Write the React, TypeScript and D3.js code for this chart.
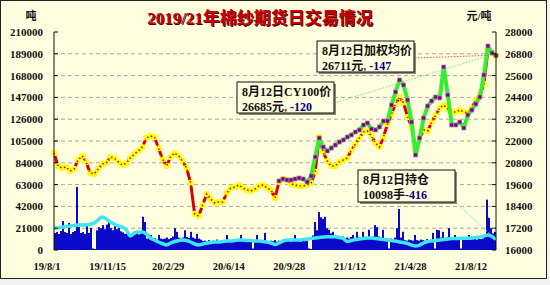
import React from 'react';
import * as d3 from 'd3';

const titleText = '2019/21年棉纱期货日交易情况';
const leftUnit = '吨';
const rightUnit = '元/吨';
const dateLabels = ['19/8/1', '19/11/15', '20/2/29', '20/6/14', '20/9/28', '21/1/12', '21/4/28', '21/8/12'];
const leftTicks = [0, 21000, 42000, 63000, 84000, 105000, 126000, 147000, 168000, 189000, 210000];
const rightTicks = [16000, 17200, 18400, 19600, 20800, 22000, 23200, 24400, 25600, 26800, 28000];

// CY100 spot price (right axis), sampled evenly across the period
const cy100 = [
  21340, 20624, 20514, 20569, 20349, 20459, 20955, 21175, 20844, 20239,
  20184, 20459, 20734, 20789, 21120, 21065, 20844, 20679, 20789, 21065,
  21285, 21450, 21670, 22166, 22276, 22221, 21615, 21010, 20624, 21120,
  21340, 21175, 20899, 20514, 19688, 17982, 17872, 18477, 19083, 18808,
  18587, 18642, 18642, 19138, 19413, 19468, 19578, 19413, 19303, 19248,
  19358, 19523, 19578, 19413, 19303, 18863, 19743, 19909, 19854, 19633,
  19578, 19523, 19523, 19578, 19688, 20294, 22221, 21395, 20899, 20624,
  20624, 20844, 20955, 21065, 21505, 21835, 22166, 22496, 22551, 22276,
  21890, 21670, 22221, 22936, 23487, 24037, 24423, 24092, 23322, 22771,
  21505, 22166, 22606, 22551, 23046, 23432, 23817, 23982, 23762, 23597,
  23597, 23707, 23597, 23542, 23817, 24258, 24533, 25138, 27010, 26845,
  26685,
];

// Futures weighted average price (right axis)
const futures: (number | null)[] = [
  null, null, null, null, null, null, null, null, null, null,
  null, null, null, null, null, null, null, null, null, null,
  null, null, null, null, null, null, null, null, null, null,
  null, null, null, null, null, null, null, null, null, null,
  null, null, null, null, null, null, null, null, null, null,
  null, null, null, null, null, null, 19800, 19909, 19854, 19854,
  19909, 19964, 19909, 19743, 20074, 21120, 22166, 21670, 21450, 21615,
  21780, 21945, 22056, 22221, 22331, 22496, 22606, 22881, 22991, 22661,
  22606, 22771, 23101, 23101, 23982, 24698, 25359, 25083, 24258, 23046,
  21230, 22166, 23267, 23927, 24202, 24423, 24368, 26074, 24533, 22881,
  22881, 23046, 22716, 23432, 23707, 24037, 24423, 25634, 27230, 26845,
  26711,
];

// Open interest (left axis)
const openInterest = [
  21190, 21190, 22160, 22640, 23120, 23600, 24080, 24080, 24080, 25050,
  26010, 28900, 31790, 29860, 26970, 25050, 23120, 22160, 19270, 13490,
  16380, 17340, 17340, 15410, 11560, 9630, 7710, 6260, 4820, 6740,
  8190, 9150, 9630, 9150, 7710, 5780, 4820, 5780, 6740, 7220,
  7710, 7710, 8190, 8670, 8670, 9150, 9630, 9630, 9150, 9150,
  8670, 8670, 8190, 7710, 6740, 5300, 6740, 8670, 9630, 9630,
  9630, 9630, 10110, 10600, 11080, 11560, 12040, 12520, 12810, 12810,
  12810, 12040, 11080, 8190, 9150, 10110, 10600, 11080, 11560, 11560,
  11080, 10600, 10110, 9630, 9150, 8670, 7710, 7220, 6260, 4820,
  3850, 4820, 6740, 8190, 8670, 9150, 9630, 10110, 10600, 11080,
  11080, 11270, 11270, 11270, 11560, 12040, 12520, 13490, 14450, 13000,
  10098,
];

// Daily volume (left axis)
const volume = [
  16400, 17300, 15400, 18300, 27900, 17300, 16400, 26000, 15400, 17300,
  18300, 60700, 22100, 16400, 17300, 15400, 24100, 16400, 21200, 1500,
  1000, 19000, 22000, 21000, 24000, 20000, 24500, 29000, 21000, 19000,
  23000, 20000, 21500, 18000, 17000, 15500, 16000, 14500, 15500, 16000,
  15000, 17500, 15000, 16000, 32000, 27000, 11000, 12000, 14500, 10500,
  11500, 10000, 14500, 11000, 10500, 11000, 12000, 10500, 11500, 13000,
  21000, 17500, 12000, 11000, 12000, 19000, 12500, 11500, 17500, 12000,
  11000, 15500, 11000, 10000, 8500, 9000, 8000, 9500, 8500, 9000,
  8000, 10000, 8500, 9000, 8000, 9500, 14500, 9000, 8500, 9500,
  8000, 9000, 8500, 14500, 9000, 8000, 9500, 8500, 9000, 1500,
  8500, 14500, 9000, 8500, 9500, 16500, 8500, 8000, 9000, 8500,
  9500, 8000, 9000, 8500, 9500, 8000, 8500, 9000, 8000, 10500,
  14500, 9000, 8500, 8000, 9500, 8500, 9000, 1500, 1000, 14000,
  27000, 19000, 36500, 31500, 30000, 32000, 21000, 19500, 16000, 17500,
  12500, 11500, 12500, 11000, 13000, 11500, 12000, 11000, 12500, 14500,
  11500, 17500, 12000, 11000, 17500, 12000, 11500, 19500, 12000, 13000,
  24000, 22000, 13000, 12000, 19500, 11500, 11000, 1500, 11000, 10500,
  12000, 21000, 39500, 12000, 17500, 9500, 9000, 10000, 9500, 9000,
  14500, 9500, 9000, 10000, 9500, 9000, 10500, 9500, 10000, 16500,
  1500, 19500, 19000, 12000, 17500, 11000, 12500, 21000, 11500, 12000,
  14500, 11000, 10500, 1500, 10000, 10500, 11000, 14500, 10000, 10500,
  11000, 10000, 11500, 10500, 11000, 13000, 48500, 31000, 21000, 16000,
  17500,
];

const noteAvg = { title: '8月12日加权均价', value: '26711元', change: '-147' };
const noteCy = { title: '8月12日CY100价', value: '26685元', change: '-120' };
const noteOi = { title: '8月12日持仓', value: '10098手', change: '-416' };

const serif = '"Liberation Serif", "DejaVu Serif", "Noto Sans CJK SC", serif';
const cjk = '"Liberation Serif", "Noto Sans CJK SC", sans-serif';

export default function App() {
  const L = 54, R = 496, T = 32, B = 250;
  const xIdx = d3.scaleLinear().domain([0, cy100.length - 1]).range([L, R]);
  const xBar = d3.scaleLinear().domain([0, volume.length]).range([L, R]);
  const yLeft = d3.scaleLinear().domain([0, 210000]).range([B, T]);
  const yRight = d3.scaleLinear().domain([16000, 28000]).range([B, T]);
  const xLab = d3.scalePoint<string>().domain(dateLabels).range([47, 471]);

  const lineCy = d3.line<number>().x((_, i) => xIdx(i)).y((d) => yRight(d));
  const lineFut = d3
    .line<number | null>()
    .defined((d) => d != null)
    .x((_, i) => xIdx(i))
    .y((d) => yRight(d as number));
  const lineOi = d3.line<number>().x((_, i) => xIdx(i)).y((d) => yLeft(d)).curve(d3.curveMonotoneX);
  const bw = xBar(1) - xBar(0);

  const lastI = cy100.length - 1;
  const futEnd = [xIdx(lastI), yRight(futures[lastI] as number)];
  const cyEnd = [xIdx(lastI), yRight(cy100[lastI])];
  const oiEnd = [xIdx(lastI), yLeft(openInterest[lastI])];

  const box = (x: number, y: number, w: number, h: number, n: { title: string; value: string; change: string }, comma: boolean) => (
    <g>
      <rect x={x + 2} y={y + 2} width={w} height={h} fill="#8a8a7a" />
      <rect x={x} y={y} width={w} height={h} fill="#FFFFE0" stroke="#111" strokeWidth={1} />
      <text x={x + 5} y={y + 14} fontFamily={cjk} fontWeight="bold" fontSize={12} fill="#111">{n.title}</text>
      <text x={x + 5} y={y + 29} fontFamily={cjk} fontWeight="bold" fontSize={12} fill="#111">
        {n.value}
        {comma ? <tspan fill="#C00000">, </tspan> : null}
        <tspan fill="#000080">{n.change}</tspan>
      </text>
    </g>
  );

  return (
    <svg width={550} height={285} style={{ position: 'absolute', left: 0, top: 0 }}>
      <rect x={0} y={0} width={550} height={285} fill="#F2F2F2" />
      <rect x={0.5} y={0.5} width={546} height={278} fill="#FFFFE0" stroke="#222" strokeWidth={1} />

      {/* gridlines */}
      {leftTicks.slice(1, -1).map((t) => (
        <line key={'g' + t} x1={L} x2={R} y1={yLeft(t)} y2={yLeft(t)} stroke="#A8A8A0" strokeWidth={1} strokeDasharray="4,3" />
      ))}

      {/* volume bars */}
      {volume.map((v, j) => (
        <rect key={'v' + j} x={xBar(j)} y={yLeft(v)} width={bw} height={B - yLeft(v)} fill="#0A0AC8" />
      ))}

      {/* open interest */}
      <path d={lineOi(openInterest) || ''} fill="none" stroke="#3EE6F2" strokeWidth={3.5} strokeLinejoin="round" />

      {/* CY100 spot */}
      <path d={lineCy(cy100) || ''} fill="none" stroke="#E00000" strokeWidth={3} strokeLinejoin="round" />
      {cy100.map((v, i) => (
        <circle key={'c' + i} cx={xIdx(i)} cy={yRight(v)} r={3.2} fill="#FFFF10" />
      ))}
      <path d={lineCy(cy100) || ''} fill="none" stroke="#D80000" strokeWidth={1.6} strokeDasharray="1.5,2.5" />

      {/* futures weighted avg */}
      <path d={lineFut(futures) || ''} fill="none" stroke="#33EE33" strokeWidth={4} strokeLinejoin="round" />
      {futures.map((v, i) =>
        v == null ? null : (
          <rect key={'f' + i} x={xIdx(i) - 2} y={yRight(v) - 2} width={4} height={4} fill="#800080" stroke="#9A9A9A" strokeWidth={0.7} />
        )
      )}

      {/* axes */}
      <line x1={L} x2={L} y1={T} y2={B} stroke="#111" strokeWidth={1} />
      <line x1={R} x2={R} y1={T} y2={B} stroke="#111" strokeWidth={1} />
      {leftTicks.map((t) => (
        <g key={'lt' + t}>
          <line x1={L} x2={L + 4} y1={yLeft(t)} y2={yLeft(t)} stroke="#111" />
          <text x={43} y={yLeft(t) + 4} textAnchor="end" fontFamily={serif} fontWeight="bold" fontSize={11} fill="#111">{t}</text>
        </g>
      ))}
      {rightTicks.map((t) => (
        <g key={'rt' + t}>
          <line x1={R - 4} x2={R} y1={yRight(t)} y2={yRight(t)} stroke="#111" />
          <text x={505} y={yRight(t) + 4} textAnchor="start" fontFamily={serif} fontWeight="bold" fontSize={11} fill="#111">{t}</text>
        </g>
      ))}
      {dateLabels.map((d) => (
        <text key={'d' + d} x={xLab(d)} y={270} textAnchor="middle" fontFamily={serif} fontWeight="bold" fontSize={10.5} fill="#111">{d}</text>
      ))}

      {/* units */}
      <text x={31} y={20} textAnchor="middle" fontFamily={cjk} fontWeight="bold" fontSize={11} fill="#111">{leftUnit}</text>
      <text x={479} y={20} textAnchor="middle" fontFamily={cjk} fontWeight="bold" fontSize={11} fill="#111">{rightUnit}</text>

      {/* title */}
      <text x={261} y={25} textAnchor="middle" fontFamily={cjk} fontWeight="bold" fontSize={17} fill="#4a0000">{titleText}</text>
      <text x={260} y={24} textAnchor="middle" fontFamily={cjk} fontWeight="bold" fontSize={17} fill="#CC0000">{titleText}</text>

      {/* leader lines */}
      <line x1={415} y1={58} x2={futEnd[0] - 8} y2={futEnd[1]} stroke="#F05050" strokeWidth={1} strokeDasharray="1.5,1.5" />
      <line x1={334} y1={103} x2={cyEnd[0] - 8} y2={cyEnd[1]} stroke="#7CE07C" strokeWidth={1} strokeDasharray="1.5,1.5" />
      <line x1={455} y1={202} x2={oiEnd[0]} y2={oiEnd[1]} stroke="#60E0E8" strokeWidth={1} strokeDasharray="1.5,1.5" />

      {/* annotation boxes */}
      {box(317, 41, 97, 31, noteAvg, true)}
      {box(237, 82, 97, 31, noteCy, true)}
      {box(358, 170, 97, 32, noteOi, false)}
    </svg>
  );
}
